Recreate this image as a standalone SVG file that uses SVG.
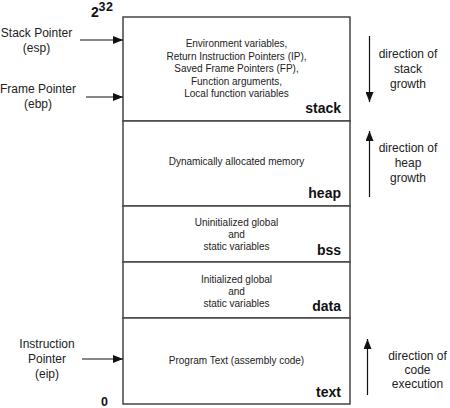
<svg xmlns="http://www.w3.org/2000/svg" width="450" height="408" viewBox="0 0 450 408">
<defs>
<style>
.t{font-family:"Liberation Sans",Arial,sans-serif;fill:#222;text-anchor:middle}
.s{font-size:10px}
.m{font-size:12px}
.b{font-family:"Liberation Sans",Arial,sans-serif;font-weight:bold;font-size:14px;fill:#111;text-anchor:end}
.seg{fill:#fff;stroke:#444;stroke-width:1.5}
.ar{stroke:#111;stroke-width:1.2;fill:none}
</style>
<marker id="ah" viewBox="0 0 10 8" refX="10" refY="4" markerWidth="10" markerHeight="8" markerUnits="userSpaceOnUse" orient="auto">
<path d="M0,0 L10,4 L0,8 Z" fill="#111"/>
</marker>
</defs>
<rect width="450" height="408" fill="#fff"/>

<g id="stack">
<rect class="seg" x="123" y="17" width="227" height="104"/>
<text class="t s" x="236.5" y="47">Environment variables,</text>
<text class="t s" x="236.5" y="59.5">Return Instruction Pointers (IP),</text>
<text class="t s" x="236.5" y="72">Saved Frame Pointers (FP),</text>
<text class="t s" x="236.5" y="84.5">Function arguments,</text>
<text class="t s" x="236.5" y="97">Local function variables</text>
<text class="b" x="341" y="113">stack</text>
</g>
<g id="heap">
<rect class="seg" x="123" y="121" width="227" height="85"/>
<text class="t s" x="236.5" y="165">Dynamically allocated memory</text>
<text class="b" x="341" y="198">heap</text>
</g>
<g id="bss">
<rect class="seg" x="123" y="206" width="227" height="56"/>
<text class="t s" x="236.5" y="226">Uninitialized global</text>
<text class="t s" x="236.5" y="238">and</text>
<text class="t s" x="236.5" y="250">static variables</text>
<text class="b" x="341" y="255">bss</text>
</g>
<g id="data">
<rect class="seg" x="123" y="262" width="227" height="56"/>
<text class="t s" x="236.5" y="282.5">Initialized global</text>
<text class="t s" x="236.5" y="294.5">and</text>
<text class="t s" x="236.5" y="306.5">static variables</text>
<text class="b" x="341" y="311">data</text>
</g>
<g id="text">
<rect class="seg" x="123" y="318" width="227" height="86"/>
<text class="t s" x="236.5" y="364">Program Text (assembly code)</text>
<text class="b" x="341" y="397">text</text>
</g>

<g id="top-label">
<text class="b" x="91" y="17.3" style="text-anchor:start;font-size:14px">2</text>
<text class="b" x="98.5" y="11" style="text-anchor:start;font-size:12.5px;letter-spacing:0.5px">32</text>
</g>
<g id="bottom-label">
<text class="b" x="101" y="405.7" style="text-anchor:start;font-size:12.5px">0</text>
</g>

<g id="sp-label">
<text class="t m" x="36.5" y="37">Stack Pointer</text>
<text class="t m" x="36.5" y="52">(esp)</text>
</g>
<g id="fp-label">
<text class="t m" x="38" y="93">Frame Pointer</text>
<text class="t m" x="38" y="108">(ebp)</text>
</g>
<g id="ip-label">
<text class="t m" x="47" y="348">Instruction</text>
<text class="t m" x="47" y="363">Pointer</text>
<text class="t m" x="47" y="378">(eip)</text>
</g>
<g id="stack-growth-label">
<text class="t m" x="408" y="58">direction of</text>
<text class="t m" x="408" y="73">stack</text>
<text class="t m" x="408" y="88">growth</text>
</g>
<g id="heap-growth-label">
<text class="t m" x="408" y="152">direction of</text>
<text class="t m" x="408" y="167">heap</text>
<text class="t m" x="408" y="182">growth</text>
</g>
<g id="code-exec-label">
<text class="t m" x="417.5" y="360">direction of</text>
<text class="t m" x="417.5" y="374">code</text>
<text class="t m" x="417.5" y="388">execution</text>
</g>

<g id="connectors">
<line class="ar" x1="80" y1="40" x2="123" y2="40" marker-end="url(#ah)"/>
<line class="ar" x1="86" y1="97" x2="123" y2="97" marker-end="url(#ah)"/>
<line class="ar" x1="82" y1="359" x2="123" y2="359" marker-end="url(#ah)"/>
<line class="ar" x1="369.5" y1="36" x2="369.5" y2="102" marker-end="url(#ah)"/>
<line class="ar" x1="369.5" y1="197" x2="369.5" y2="131" marker-end="url(#ah)"/>
<line class="ar" x1="367.5" y1="395" x2="367.5" y2="339" marker-end="url(#ah)"/>
</g>
</svg>
